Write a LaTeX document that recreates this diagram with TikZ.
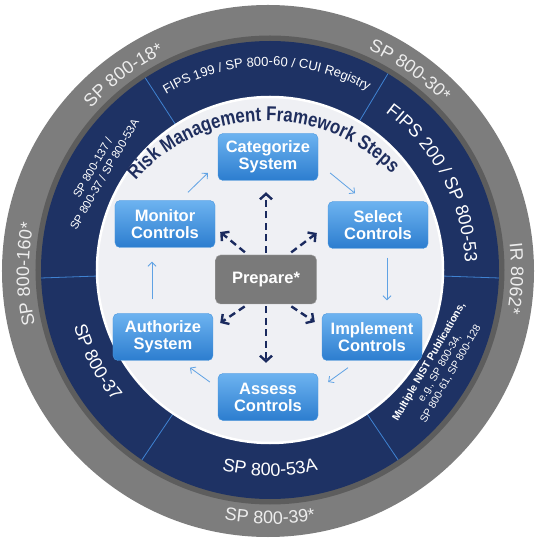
\documentclass[tikz,border=0pt]{standalone}
\usepackage{fontspec}
\setmainfont{Liberation Sans}
\newfontfamily\narrowfont[FakeStretch=0.84]{Liberation Sans}
\usetikzlibrary{arrows.meta,decorations.text}
\definecolor{ringgray}{HTML}{7D7D7D}
\definecolor{ringnavy}{HTML}{1E3264}
\definecolor{divblue}{HTML}{3F82D2}
\definecolor{innerbg}{HTML}{EFF0F4}
\definecolor{boxtop}{HTML}{6DB3F0}
\definecolor{boxbottom}{HTML}{2C7DCF}
\definecolor{boxedge}{HTML}{4A97DE}
\definecolor{prepgray}{HTML}{7A7A7A}
\definecolor{dashnavy}{HTML}{1A2A5E}
\definecolor{cycleblue}{HTML}{5FA2E4}
\definecolor{graytext}{HTML}{EDEDED}
\definecolor{titlenavy}{HTML}{1F2E5E}
\tikzset{
    stepbox/.style = {draw=boxedge, rounded corners=5pt, top color=boxtop, bottom color=boxbottom,
        minimum height=47pt, minimum width=100pt, align=center, text=white,
        font=\fontsize{16.5}{17}\selectfont\bfseries},
    prepbox/.style = {stepbox, draw=gray!70, top color=prepgray, bottom color=prepgray,
        minimum width=101pt, minimum height=49pt},
    cyclearrow/.style = {draw=cycleblue, line width=.8pt, -{Straight Barb[length=4pt,width=8pt]}},
    prepline/.style = {draw=dashnavy, line width=2.4pt, dash pattern=on 7pt off 4.5pt,
        -{Straight Barb[length=5.5pt,width=12pt]}},
    ringnote/.style = {text=white, align=center, font=\fontsize{11.5}{13.5}\selectfont}
}
\newcommand{\arctext}[5]{\path[decorate,decoration={text along path,text align=center,text={|#1|#2}}]
    (#3:#5pt) arc[start angle=#3,end angle=#4,radius=#5pt];}
\newcommand{\graytxt}{\color{graytext}\fontsize{18}{18}\selectfont}
\newcommand{\bigtxt}{\color{white}\fontsize{18}{18}\selectfont}
\newcommand{\smalltxt}{\color{white}\fontsize{13}{13}\selectfont}
\newcommand{\titletxt}{\color{titlenavy}\narrowfont\fontsize{20}{20}\selectfont\bfseries}

\begin{document}
\begin{tikzpicture}[x=1pt,y=1pt]
        \useasboundingbox (-270,-270) rectangle (270,270);
        \fill[ringgray] (-2,-1) circle[radius=266pt];
        \draw[black,opacity=.25,line width=7pt] (0,0) circle[radius=231pt];
        \fill[ringnavy] (0,0) circle[radius=229pt];
        \foreach \a in {59,123,182,236,304,358}
            \draw[divblue,line width=.8pt] (\a:172) -- (\a:229);
        \draw[white,line width=2.5pt,fill=innerbg] (0,0) circle[radius=173pt];

        \arctext{\graytxt}{SP 800-18*}{167}{87}{241}
        \arctext{\graytxt}{SP 800-30*}{95}{15}{241}
        \arctext{\graytxt}{IR 8062*}{38}{-42}{241}
        \arctext{\graytxt}{SP 800-160*}{221}{141}{241}
        \arctext{\graytxt}{SP 800-39*}{-130}{-50}{254}
        \arctext{\smalltxt}{FIPS 199 / SP 800-60 / CUI Registry}{131}{51}{204}
        \arctext{\bigtxt}{FIPS 200 / SP 800-53}{68}{-12}{195}
        \arctext{\bigtxt}{SP 800-53A}{-130}{-50}{206}
        \arctext{\bigtxt}{SP 800-37}{168}{248}{204}
        \node[ringnote,rotate=60] (pubsleft) at (150:198) {SP 800-137 /\\SP 800-37 / SP 800-53A};
        \node[ringnote,rotate=60,font=\fontsize{10.5}{12.5}\selectfont] (pubsright) at (-30:196)
            {\textbf{Multiple NIST Publications,}\\e.g., SP 800-34,\\SP 800-61, SP 800-128};
        \begin{scope}[shift={(-3,-26)}]
            \arctext{\titletxt}{Risk Management Framework Steps}{181.5}{1.5}{175}
        \end{scope}

        \node[stepbox] (cat) at (-2,113) {Categorize\\System};
        \node[stepbox] (sel) at (108,45) {Select\\Controls};
        \node[stepbox] (imp) at (102,-67) {Implement\\Controls};
        \node[stepbox] (ass) at (-2,-127) {Assess\\Controls};
        \node[stepbox] (aut) at (-107,-67) {Authorize\\System};
        \node[stepbox] (mon) at (-105,46) {Monitor\\Controls};
        \node[prepbox] (prep) at (-4,-9.5) {Prepare*};

        \draw[cyclearrow] ([shift={(23,8)}]mon.north) -- ([shift={(-10,-16)}]cat.west);
        \draw[cyclearrow] ([shift={(12,-16)}]cat.east) -- ([shift={(-23,8)}]sel.north);
        \draw[cyclearrow] ([shift={(9,-9)}]sel.south) -- ([shift={(15,13)}]imp.north);
        \draw[cyclearrow] ([shift={(-24,-7)}]imp.south) -- ([shift={(10,15)}]ass.east);
        \draw[cyclearrow] ([shift={(-8,15)}]ass.west) -- ([shift={(27,-7)}]aut.south);
        \draw[cyclearrow] ([shift={(-11,14)}]aut.north) -- ([shift={(-13,-14)}]mon.south);

        \draw[prepline,shorten <=2pt,shorten >=11.5pt] (prep.north) -- (prep.north |- cat.south);
        \draw[prepline,shorten <=2pt,shorten >=10.5pt] (prep.south) -- (prep.south |- ass.north);
        \draw[prepline,shorten <=4pt] ([xshift=-18pt]prep.north) -- ([shift={(5,-8)}]mon.east);
        \draw[prepline,shorten <=4pt] ([xshift=22pt]prep.north) -- ([shift={(-11,-8)}]sel.west);
        \draw[prepline,shorten <=4pt] ([xshift=-18pt]prep.south) -- ([shift={(7,14)}]aut.east);
        \draw[prepline,shorten <=4pt] ([xshift=22pt]prep.south) -- ([shift={(-7,15)}]imp.west);
\end{tikzpicture}
\end{document}
